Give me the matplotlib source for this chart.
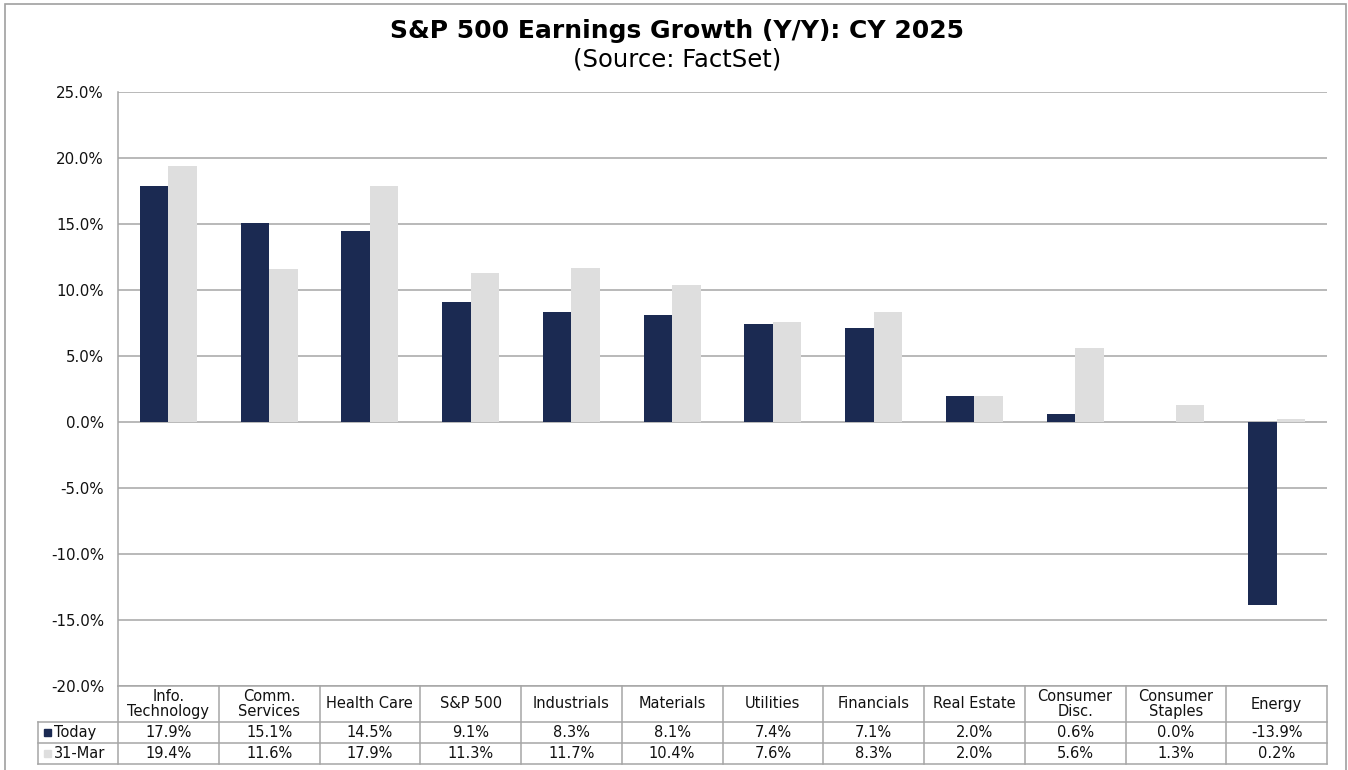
import numpy as np
import matplotlib
matplotlib.use('Agg')
import matplotlib.pyplot as plt
import matplotlib.transforms as mtransforms
from matplotlib.patches import Rectangle
from matplotlib.lines import Line2D
from matplotlib.ticker import FuncFormatter, MultipleLocator

plt.rcParams['font.family'] = ['DejaVu Sans']

# Data
sectors = ['Info.\nTechnology', 'Comm.\nServices', 'Health Care', 'S&P 500', 'Industrials',
           'Materials', 'Utilities', 'Financials', 'Real Estate', 'Consumer\nDisc.',
           'Consumer\nStaples', 'Energy']
today = [17.9, 15.1, 14.5, 9.1, 8.3, 8.1, 7.4, 7.1, 2.0, 0.6, 0.0, -13.9]
mar31 = [19.4, 11.6, 17.9, 11.3, 11.7, 10.4, 7.6, 8.3, 2.0, 5.6, 1.3, 0.2]
series_names = ['Today', '31-Mar']

navy = '#1b2a52'
light = '#dedede'
grid_c = '#a6a6a6'
colors = [navy, light]

W, H = 1348, 770
fig = plt.figure(figsize=(W / 100, H / 100), dpi=100)

def fx(px):
    return px / W

def fy(py):
    return 1 - py / H

ax = fig.add_axes([fx(118), fy(686), fx(1327) - fx(118), fy(92) - fy(686)])

n = len(sectors)
x = np.arange(n) + 0.5
bw = 0.283
ax.bar(x - bw / 2, today, width=bw, color=navy, zorder=3)
ax.bar(x + bw / 2, mar31, width=bw, color=light, zorder=3)

ax.set_xlim(0, n)
ax.set_ylim(-20, 25)
ax.yaxis.set_major_locator(MultipleLocator(5))
ax.yaxis.set_major_formatter(FuncFormatter(lambda v, p: f'{v:.1f}%'))
ax.tick_params(axis='y', length=0, labelsize=10.8, pad=10, labelcolor='#111111')
ax.set_xticks([])
ax.grid(axis='y', color=grid_c, lw=1.1, zorder=1)
ax.set_axisbelow(True)
for s in ['top', 'right']:
    ax.spines[s].set_visible(False)
ax.spines['left'].set_color(grid_c)
ax.spines['bottom'].set_color(grid_c)
ax.spines['left'].set_linewidth(1.1)
ax.spines['bottom'].set_linewidth(1.1)

# Data table below the axes
tr = mtransforms.blended_transform_factory(ax.transData, fig.transFigure)
y_head_top, y_row1, y_row2, y_bot = fy(686), fy(722), fy(743), fy(764)
line_kw = dict(color=grid_c, lw=1.1, clip_on=False)
for i in range(n + 1):
    fig.add_artist(Line2D([i, i], [y_head_top, y_bot], transform=tr, **line_kw))
for yy in [y_row1, y_row2, y_bot]:
    fig.add_artist(Line2D([fx(38), fx(1327)], [yy, yy], transform=fig.transFigure, **line_kw))
fig.add_artist(Line2D([fx(38), fx(38)], [y_row1, y_bot], transform=fig.transFigure, **line_kw))

fs = 10.5
for i, name in enumerate(sectors):
    fig.text(x[i], (y_head_top + y_row1) / 2, name, transform=tr, ha='center', va='center',
             fontsize=fs, linespacing=1.0, color='#111111')
    fig.text(x[i], (y_row1 + y_row2) / 2, f'{today[i]:.1f}%', transform=tr, ha='center',
             va='center', fontsize=fs, color='#111111')
    fig.text(x[i], (y_row2 + y_bot) / 2, f'{mar31[i]:.1f}%', transform=tr, ha='center',
             va='center', fontsize=fs, color='#111111')

for j, (lab, c) in enumerate(zip(series_names, colors)):
    yc = [(y_row1 + y_row2) / 2, (y_row2 + y_bot) / 2][j]
    fig.add_artist(Rectangle((fx(44), yc - 3.5 / H), 7 / W, 7 / H, transform=fig.transFigure,
                             color=c))
    fig.text(fx(54), yc, lab, ha='left', va='center', fontsize=fs, color='#111111')

# Titles
fig.text(0.502, fy(31), 'S&P 500 Earnings Growth (Y/Y): CY 2025', ha='center', va='center',
         fontsize=18, fontweight='bold')
fig.text(0.502, fy(60), '(Source: FactSet)', ha='center', va='center', fontsize=17.5)

# Outer chart border
fig.add_artist(Rectangle((fx(5), -0.05), fx(1346) - fx(5), fy(4) + 0.05, transform=fig.transFigure,
                         fill=False, edgecolor='#a0a0a0', lw=1.2))

fig.savefig('out.png', dpi=100)
